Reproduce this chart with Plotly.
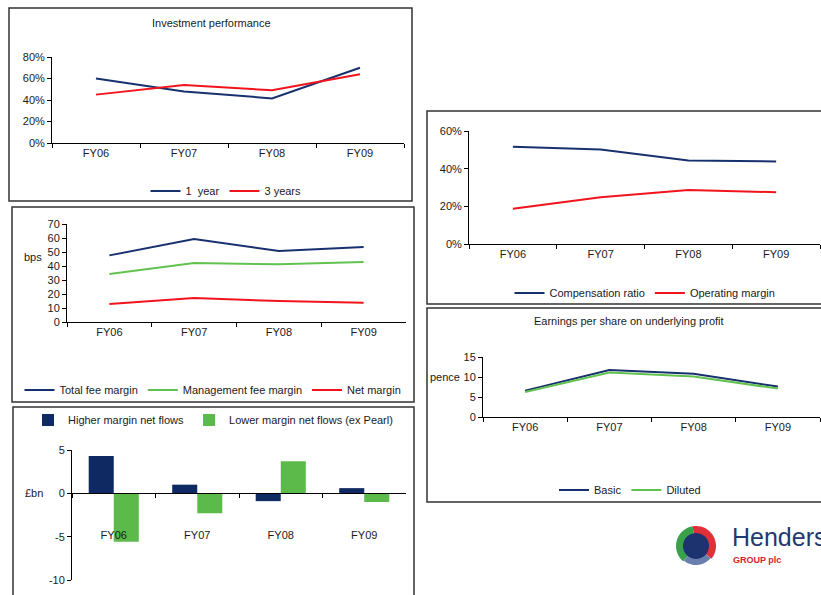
import math
import plotly.graph_objects as go

W, H = 821, 595

categories = ["FY06", "FY07", "FY08", "FY09"]

inv_1y = [0.60, 0.48, 0.415, 0.70]
inv_3y = [0.45, 0.54, 0.49, 0.64]

total_fee_margin = [47.6, 59.3, 50.7, 53.6]
mgmt_fee_margin = [34.3, 42.1, 41.2, 42.9]
net_margin = [12.9, 17.1, 15.0, 13.8]

higher_flows = [4.3, 1.0, -0.9, 0.6]
lower_flows = [-5.6, -2.3, 3.7, -1.0]
flow_ticks = [-10, -5, 0, 5]
flow_tick_labels = ["-10", "-5", "0", "5"]

comp_ratio = [0.516, 0.502, 0.444, 0.438]
op_margin = [0.187, 0.248, 0.287, 0.275]

eps_basic = [6.6, 11.75, 10.8, 7.6]
eps_diluted = [6.25, 11.1, 10.1, 7.1]

NAVY = "#17306e"
RED = "#f2141c"
GREEN = "#62c24f"
BAR_NAVY = "#0f2a62"
BAR_GREEN = "#5cba4b"
FONT = "Liberation Sans, Arial, sans-serif"
TXT = "#1a1a1a"


def px(x):
    return x / W


def py(y):
    return 1 - y / H


fig = go.Figure()

# Panel 1: Investment performance
fig.add_trace(go.Scatter(x=categories, y=inv_1y, name="1  year", mode="lines",
                         line=dict(color=NAVY, width=2), xaxis="x", yaxis="y", legend="legend"))
fig.add_trace(go.Scatter(x=categories, y=inv_3y, name="3 years", mode="lines",
                         line=dict(color=RED, width=2), xaxis="x", yaxis="y", legend="legend"))

# Panel 2: margins
fig.add_trace(go.Scatter(x=categories, y=total_fee_margin, name="Total fee margin", mode="lines",
                         line=dict(color=NAVY, width=2), xaxis="x2", yaxis="y2", legend="legend2"))
fig.add_trace(go.Scatter(x=categories, y=mgmt_fee_margin, name="Management fee margin", mode="lines",
                         line=dict(color=GREEN, width=2), xaxis="x2", yaxis="y2", legend="legend2"))
fig.add_trace(go.Scatter(x=categories, y=net_margin, name="Net margin", mode="lines",
                         line=dict(color=RED, width=2), xaxis="x2", yaxis="y2", legend="legend2"))

# Panel 3: flows
fig.add_trace(go.Bar(x=categories, y=higher_flows, name="Higher margin net flows",
                     marker=dict(color=BAR_NAVY, line=dict(width=0)), xaxis="x3", yaxis="y3", legend="legend3"))
fig.add_trace(go.Bar(x=categories, y=lower_flows, name="Lower margin net flows (ex Pearl)",
                     marker=dict(color=BAR_GREEN, line=dict(width=0)), xaxis="x3", yaxis="y3", legend="legend3"))

# Panel 4: compensation / operating margin
fig.add_trace(go.Scatter(x=categories, y=comp_ratio, name="Compensation ratio", mode="lines",
                         line=dict(color=NAVY, width=2), xaxis="x4", yaxis="y4", legend="legend4"))
fig.add_trace(go.Scatter(x=categories, y=op_margin, name="Operating margin", mode="lines",
                         line=dict(color=RED, width=2), xaxis="x4", yaxis="y4", legend="legend4"))

# Panel 5: EPS
fig.add_trace(go.Scatter(x=categories, y=eps_basic, name="Basic", mode="lines",
                         line=dict(color=NAVY, width=2), xaxis="x5", yaxis="y5", legend="legend5"))
fig.add_trace(go.Scatter(x=categories, y=eps_diluted, name="Diluted", mode="lines",
                         line=dict(color=GREEN, width=2), xaxis="x5", yaxis="y5", legend="legend5"))

tickfont = dict(family=FONT, size=11, color=TXT)


def xax(domain, anchor, **kw):
    d = dict(domain=domain, anchor=anchor, range=[-0.5, 3.5], type="category",
             showline=True, linecolor="#000", linewidth=1,
             ticks="outside", ticklen=4, tickcolor="#000", tickson="boundaries",
             showgrid=False, zeroline=False, tickfont=tickfont, fixedrange=True,
             automargin=False)
    d.update(kw)
    return d


def yax(domain, anchor, rng, dtick, fmt="", **kw):
    d = dict(domain=domain, anchor=anchor, range=rng, dtick=dtick, tickformat=fmt,
             showline=True, linecolor="#000", linewidth=1, ticks="outside", ticklen=4,
             tickcolor="#000", showgrid=False, zeroline=False, tickfont=tickfont, fixedrange=True,
             automargin=False)
    d.update(kw)
    return d


def legend(xc, yc):
    return dict(orientation="h", x=px(xc), y=py(yc), xanchor="center", yanchor="middle",
                font=dict(family=FONT, size=11, color=TXT), bgcolor="rgba(0,0,0,0)",
                itemwidth=30, tracegroupgap=0)


layout = dict(
    template="none",
    width=W, height=H, margin=dict(l=0, r=0, t=0, b=0, pad=0, autoexpand=False), autosize=False,
    paper_bgcolor="white", plot_bgcolor="rgba(0,0,0,0)",
    font=dict(family=FONT, size=11, color=TXT),
    barmode="group", bargap=0.4, bargroupgap=0,
    showlegend=True,
    xaxis=xax([px(52), px(404)], "y"),
    yaxis=yax([py(143), py(57)], "x", [0, 0.8], 0.2, ".0%"),
    xaxis2=xax([px(67), px(406)], "y2"),
    yaxis2=yax([py(322), py(224)], "x2", [0, 70], 10),
    xaxis3=xax([px(72), px(406)], "free", position=py(493), ticklabelstandoff=32),
    yaxis3=yax([py(580), py(450)], "x3", [-10, 5], 5, tickmode="array",
               tickvals=flow_ticks, ticktext=flow_tick_labels),
    xaxis4=xax([px(469), px(820)], "y4"),
    yaxis4=yax([py(244), py(131)], "x4", [0, 0.6], 0.2, ".0%"),
    xaxis5=xax([px(483), px(820)], "y5"),
    yaxis5=yax([py(417), py(357)], "x5", [0, 15], 5),
    legend=legend(226, 191),
    legend2=legend(213, 390),
    legend3=legend(213, 420),
    legend4=legend(645, 293),
    legend5=legend(630, 490),
)

# panel boxes
boxes = [(9, 8, 412, 201), (12, 207, 414, 402), (13, 407, 414, 610),
         (427, 111, 840, 304), (427, 308, 840, 502)]
shapes = []
for x0, y0, x1, y1 in boxes:
    shapes.append(dict(type="rect", xref="paper", yref="paper", x0=px(x0), x1=px(x1),
                       y0=py(y1), y1=py(y0), line=dict(color="#333333", width=1.5),
                       fillcolor="rgba(0,0,0,0)", layer="below"))


# logo swirl (decorative)
def sector(cx, cy, r0, r1, a0, a1, n=24):
    pts = []
    for i in range(n + 1):
        a = math.radians(a0 + (a1 - a0) * i / n)
        pts.append((cx + r1 * math.cos(a), cy - r1 * math.sin(a)))
    for i in range(n, -1, -1):
        a = math.radians(a0 + (a1 - a0) * i / n)
        pts.append((cx + r0 * math.cos(a), cy - r0 * math.sin(a)))
    path = "M " + " L ".join(f"{px(x):.5f},{py(y):.5f}" for x, y in pts) + " Z"
    return path


cx, cy = 696, 546
shapes.append(dict(type="path", xref="paper", yref="paper", path=sector(cx, cy, 11, 20, 100, 230),
                   fillcolor="#3aa04a", line=dict(width=0)))
shapes.append(dict(type="path", xref="paper", yref="paper", path=sector(cx, cy, 11, 20, -40, 100),
                   fillcolor="#e0303a", line=dict(width=0)))
shapes.append(dict(type="path", xref="paper", yref="paper", path=sector(cx, cy, 11, 19, 230, 320),
                   fillcolor="#6a7fae", line=dict(width=0)))
shapes.append(dict(type="path", xref="paper", yref="paper", path=sector(cx, cy, 0, 13, 0, 360, 40),
                   fillcolor="#1d3370", line=dict(width=0)))
layout["shapes"] = shapes

ann = []


def text(x, y, s, size=11, color=TXT, xanchor="center", bold=False, yanchor="middle"):
    ann.append(dict(xref="paper", yref="paper", x=px(x), y=py(y), text=(f"<b>{s}</b>" if bold else s),
                    showarrow=False, xanchor=xanchor, yanchor=yanchor,
                    font=dict(family=FONT, size=size, color=color)))


text(211, 23, "Investment performance")
text(629, 321, "Earnings per share on underlying profit")
text(33, 257, "bps")
text(34, 493, "£bn")
text(445, 377, "pence")
text(730, 553, "Henderson", size=25, color="#1f3a70", xanchor="left", yanchor="bottom")
text(731, 553, "GROUP plc", size=9, color="#d8232a", xanchor="left", bold=True, yanchor="top")
layout["annotations"] = ann

fig.update_layout(**layout)
fig.write_html("out.html", config={"displayModeBar": False},
               post_script="document.body.style.margin='0';")
